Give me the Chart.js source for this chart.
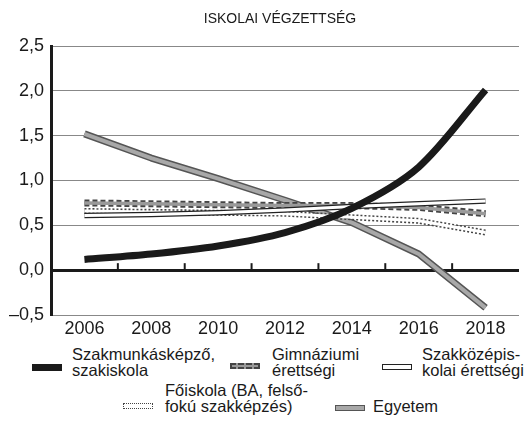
<!DOCTYPE html>
<html lang="hu">
<head>
    <meta charset="UTF-8">
    <title>Iskolai végzettség</title>
    <script src="https://cdn.jsdelivr.net/npm/chart.js"></script>
    <style>
        body { margin: 0; background: #fff; font-family: "Liberation Sans", Arial, sans-serif; color: #1a1a1a; }
        .wrap { position: relative; width: 529px; height: 423px; overflow: hidden; }
        .chart-box { position: absolute; left: 0; top: 0; width: 529px; height: 340px; }
        .title { position: absolute; top: 10px; left: 180px; width: 200px; text-align: center; font-size: 14px; line-height: 16px; }
        .legend-item { position: absolute; font-size: 16.5px; line-height: 16px; white-space: nowrap; }
        .swatch { position: absolute; height: 6px; width: 30px; box-sizing: border-box; }
        .sw-szakmunkas { background: #1a1a1a; height: 7px; }
        .sw-gimn { background: #999; border: 2px dashed #444; }
        .sw-szakkozep { background: #fff; border: 1.5px solid #222; }
        .sw-foiskola { background: #fff; border: 1.5px dotted #444; }
        .sw-egyetem { background: #a8a8a8; border: 1.5px solid #555; }
    </style>
</head>
<body>
<div class="wrap">
    <div class="chart-box"><canvas id="chart"></canvas></div>
    <div class="title">ISKOLAI VÉGZETTSÉG</div>

    <!-- Legend -->
    <div class="swatch sw-szakmunkas" style="left:32px; top:364px;"></div>
    <div class="legend-item" style="left:72px; top:346px;">Szakmunkásképző,<br>szakiskola</div>
    <div class="swatch sw-gimn" style="left:230px; top:363px;"></div>
    <div class="legend-item" style="left:272px; top:346px;">Gimnáziumi<br>érettségi</div>
    <div class="swatch sw-szakkozep" style="left:382px; top:364px;"></div>
    <div class="legend-item" style="left:422px; top:346px;">Szakközépis-<br>kolai érettségi</div>
    <div class="swatch sw-foiskola" style="left:123px; top:403px;"></div>
    <div class="legend-item" style="left:165px; top:382px;">Főiskola (BA, felső-<br>fokú szakképzés)</div>
    <div class="swatch sw-egyetem" style="left:335px; top:405px;"></div>
    <div class="legend-item" style="left:373px; top:398px;">Egyetem</div>
</div>

<script>
    const years = ['2006', '2008', '2010', '2012', '2014', '2016', '2018'];
    const szakmunkas = [0.12, 0.18, 0.27, 0.42, 0.69, 1.15, 2.01];
    const gimnazium = [0.75, 0.74, 0.73, 0.72, 0.72, 0.70, 0.63];
    const szakkozep = [0.61, 0.62, 0.64, 0.67, 0.71, 0.74, 0.77];
    const foiskola = [0.66, 0.65, 0.64, 0.63, 0.59, 0.55, 0.42];
    const egyetem = [1.52, 1.25, 1.02, 0.78, 0.53, 0.18, -0.42];

    function line(data, color, width, dash, order, tension) {
        return {
            data: data,
            borderColor: color,
            borderWidth: width,
            borderDash: dash || [],
            borderCapStyle: 'butt',
            borderJoinStyle: 'round',
            pointRadius: 0,
            fill: false,
            tension: tension || 0,
            order: order
        };
    }

    // small upward tick marks on the zero line between the years
    const zeroTicks = {
        id: 'zeroTicks',
        beforeDatasetsDraw(chart) {
            const ctx = chart.ctx;
            const x = chart.scales.x;
            const y0 = chart.scales.y.getPixelForValue(0);
            ctx.save();
            ctx.strokeStyle = '#1a1a1a';
            ctx.lineWidth = 2;
            for (let i = 1; i < years.length; i++) {
                const px = (x.getPixelForTick(i - 1) + x.getPixelForTick(i)) / 2;
                ctx.beginPath();
                ctx.moveTo(px, y0);
                ctx.lineTo(px, y0 - 7);
                ctx.stroke();
            }
            ctx.restore();
        }
    };

    new Chart(document.getElementById('chart'), {
        type: 'line',
        data: {
            labels: years,
            datasets: [
                line(szakmunkas, '#1a1a1a', 7, null, 0, 0.3),
                line(szakkozep, '#fff', 3, null, 1),
                line(szakkozep, '#222', 5.5, null, 2),
                line(gimnazium, '#9a9a9a', 3.5, null, 3),
                line(gimnazium, '#444', 7, [5, 3], 4),
                line(foiskola, '#fff', 3, null, 5),
                line(foiskola, '#444', 6, [2, 2], 6),
                line(egyetem, '#a8a8a8', 4, null, 7),
                line(egyetem, '#555', 7, null, 8)
            ]
        },
        options: {
            responsive: true,
            maintainAspectRatio: false,
            animation: false,
            layout: { padding: { top: 46, right: 10 } },
            plugins: {
                legend: { display: false },
                tooltip: { enabled: false },
                title: { display: false }
            },
            scales: {
                x: {
                    offset: true,
                    grid: { display: false, drawTicks: false },
                    border: { display: false },
                    ticks: {
                        color: '#1a1a1a',
                        padding: 3,
                        font: { family: '"Liberation Sans", Arial, sans-serif', size: 18 }
                    },
                    afterFit(scale) { scale.height = 25; }
                },
                y: {
                    min: -0.5,
                    max: 2.5,
                    border: { display: true, color: '#1a1a1a', width: 3 },
                    grid: {
                        drawTicks: false,
                        color: ctx => ctx.tick && ctx.tick.value === 0 ? '#1a1a1a' : '#888',
                        lineWidth: ctx => ctx.tick && ctx.tick.value === 0 ? 3 : 1
                    },
                    ticks: {
                        stepSize: 0.5,
                        padding: 7,
                        color: '#1a1a1a',
                        font: { family: '"Liberation Sans", Arial, sans-serif', size: 18 },
                        callback: v => (v < 0 ? '–' : '') + Math.abs(v).toFixed(1).replace('.', ',')
                    },
                    afterFit(scale) { scale.width = 51; }
                }
            }
        },
        plugins: [zeroTicks]
    });
</script>
</body>
</html>
